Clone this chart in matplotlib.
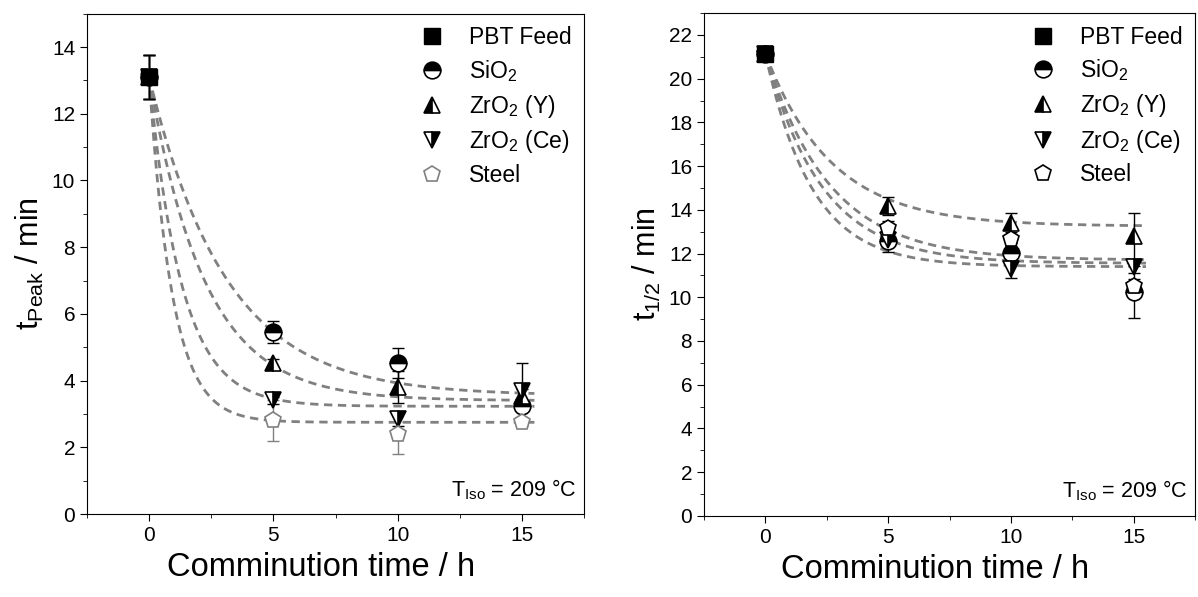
import numpy as np
import matplotlib
matplotlib.use("Agg")
import matplotlib.pyplot as plt
from matplotlib.ticker import MultipleLocator

plt.rcParams["font.family"] = ["Liberation Sans", "DejaVu Sans"]
plt.rcParams["mathtext.fontset"] = "custom"
plt.rcParams["mathtext.rm"] = "Liberation Sans"
plt.rcParams["mathtext.it"] = "Liberation Sans"

# comminution time in h
times = [0, 5, 10, 15]
labels = ["PBT Feed", "SiO$_2$", "ZrO$_2$ (Y)", "ZrO$_2$ (Ce)", "Steel"]

# left panel: t_Peak / min
feed_peak = 13.1
feed_peak_err = 0.65
sio2_peak = [13.1, 5.46, 4.52, 3.23]
sio2_peak_err = [0.65, 0.33, 0.45, 0.15]
zry_peak = [13.1, 4.52, 3.80, 3.55]
zry_peak_err = [0.65, 0.12, 0.48, 0.2]
zrce_peak = [13.1, 3.41, 2.84, 3.70]
zrce_peak_err = [0.65, 0.1, 0.2, 0.84]
steel_peak = [13.1, 2.81, 2.39, 2.75]
steel_peak_err = [0.65, 0.62, 0.6, 0.1]
# exponential fit parameters (y0, y_inf, tau)
fit_peak = {"sio2": (13.1, 3.55, 3.1), "zry": (13.1, 3.4, 2.25),
            "zrce": (13.1, 3.23, 1.32), "steel": (13.1, 2.75, 0.94)}

# right panel: t_1/2 / min
feed_half = 21.15
feed_half_err = 0.3
sio2_half = [21.15, 12.57, 12.04, 10.25]
sio2_half_err = [0.3, 0.5, 0.3, 1.2]
zry_half = [21.15, 14.17, 13.41, 12.8]
zry_half_err = [0.3, 0.42, 0.44, 1.05]
zrce_half = [21.15, 12.62, 11.3, 11.39]
zrce_half_err = [0.3, 0.3, 0.4, 0.3]
steel_half = [21.15, 13.18, 12.66, 10.52]
steel_half_err = [0.3, 0.3, 0.2, 0.3]
fit_half = {"sio2": (21.15, 11.55, 2.3), "zry": (21.15, 13.25, 2.7),
            "zrce": (21.15, 11.4, 1.9), "steel": (21.15, 11.7, 2.6)}


def draw_panel(ax, feed, feed_err, series, fits, steel_color, ymax, ylabel):
    tt = np.linspace(0, 15.5, 300)
    for key in ["sio2", "zry", "zrce", "steel"]:
        y0, yinf, tau = fits[key]
        ax.plot(tt, yinf + (y0 - yinf) * np.exp(-tt / tau), ls=(0, (3, 2)),
                color="#808080", lw=2, zorder=1)
    ms = 11
    styles = {
        "sio2": dict(marker="o", fillstyle="top"),
        "zry": dict(marker="^", fillstyle="left"),
        "zrce": dict(marker="v", fillstyle="right"),
        "steel": dict(marker="p", fillstyle="none"),
    }
    handles = []
    h = ax.plot([], [], "s", color="black", ms=ms)[0]
    handles.append(h)
    for key in ["sio2", "zry", "zrce", "steel"]:
        vals, errs = series[key]
        col = steel_color if key == "steel" else "black"
        ax.errorbar(times, vals, yerr=errs, fmt="none", ecolor=col,
                    capsize=4.5, elinewidth=1, zorder=2)
        st = styles[key]
        h = ax.plot(times, vals, ls="none", marker=st["marker"], ms=ms + 1,
                    fillstyle=st["fillstyle"], markerfacecolor="black",
                    markerfacecoloralt="white", markeredgecolor=col,
                    markeredgewidth=1.2, zorder=4)[0]
        if key == "steel":
            h.set_markerfacecolor("white")
            h.set_fillstyle("full")
        handles.append(h)
    ax.errorbar([0], [feed], yerr=[feed_err], fmt="s", color="black", ms=ms,
                capsize=4.5, elinewidth=1, zorder=5)
    ax.legend(handles, labels, loc="upper right", frameon=False, fontsize=16.5,
              handletextpad=0.6, labelspacing=0.38, borderaxespad=0.15)
    ax.set_xlim(-2.5, 17.5)
    ax.set_ylim(0, ymax)
    ax.xaxis.set_major_locator(MultipleLocator(5))
    ax.xaxis.set_minor_locator(MultipleLocator(2.5))
    ax.yaxis.set_major_locator(MultipleLocator(2))
    ax.yaxis.set_minor_locator(MultipleLocator(1))
    ax.tick_params(which="both", direction="out", top=False, right=False,
                   labelsize=15)
    ax.tick_params(which="major", length=5)
    ax.tick_params(which="minor", length=3)
    ax.set_xlabel("Comminution time / h", fontsize=23.5, labelpad=4)
    ax.xaxis.set_label_coords(0.47, -0.075)
    ax.set_ylabel(ylabel, fontsize=22, labelpad=4)
    ax.text(0.985, 0.025, "T$_{\\rm Iso}$ = 209 °C", transform=ax.transAxes,
            ha="right", va="bottom", fontsize=15.5)


fig = plt.figure(figsize=(11.98, 5.97), dpi=100)
ax1 = fig.add_axes([0.0726, 0.139, 0.415, 0.838])
ax2 = fig.add_axes([0.5876, 0.136, 0.410, 0.842])

draw_panel(ax1, feed_peak, feed_peak_err,
           {"sio2": (sio2_peak, sio2_peak_err), "zry": (zry_peak, zry_peak_err),
            "zrce": (zrce_peak, zrce_peak_err), "steel": (steel_peak, steel_peak_err)},
           fit_peak, "#808080", 15, "t$_{\\rm Peak}$ / min")
draw_panel(ax2, feed_half, feed_half_err,
           {"sio2": (sio2_half, sio2_half_err), "zry": (zry_half, zry_half_err),
            "zrce": (zrce_half, zrce_half_err), "steel": (steel_half, steel_half_err)},
           fit_half, "black", 23, "t$_{1/2}$ / min")

fig.savefig("out.png", dpi=100)
